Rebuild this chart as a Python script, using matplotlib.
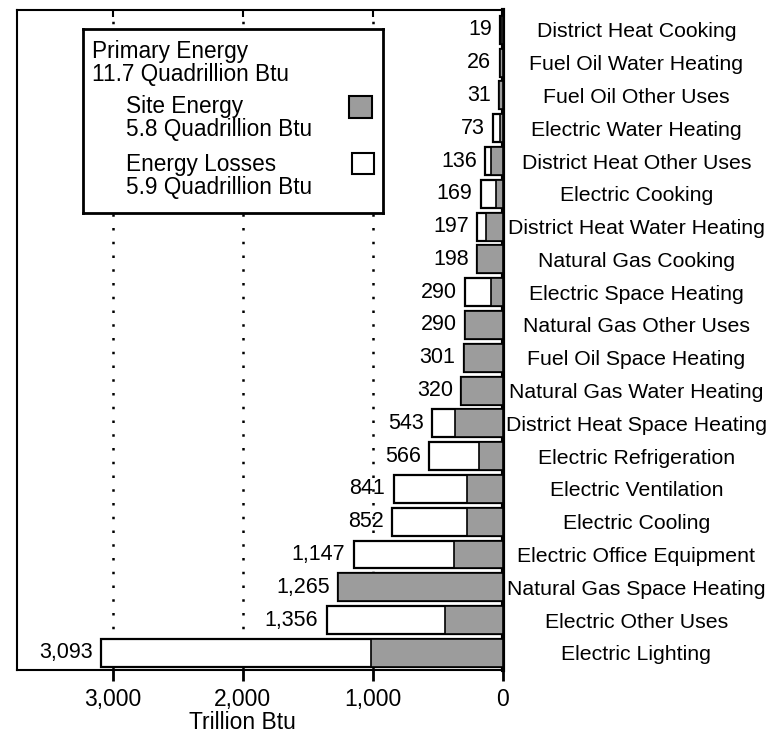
import numpy as np
import matplotlib.pyplot as plt
from matplotlib.patches import Rectangle

plt.rcParams['font.family'] = ['Liberation Sans', 'DejaVu Sans']

# end uses, top to bottom
categories = ["District Heat Cooking", "Fuel Oil Water Heating", "Fuel Oil Other Uses",
              "Electric Water Heating", "District Heat Other Uses", "Electric Cooking",
              "District Heat Water Heating", "Natural Gas Cooking", "Electric Space Heating",
              "Natural Gas Other Uses", "Fuel Oil Space Heating", "Natural Gas Water Heating",
              "District Heat Space Heating", "Electric Refrigeration", "Electric Ventilation",
              "Electric Cooling", "Electric Office Equipment", "Natural Gas Space Heating",
              "Electric Other Uses", "Electric Lighting"]
primary = [19, 26, 31, 73, 136, 169, 197, 198, 290, 290, 301, 320, 543, 566, 841, 852,
           1147, 1265, 1356, 3093]
site = [13, 26, 31, 24, 91, 55, 132, 198, 95, 290, 301, 320, 365, 185, 275, 279,
        375, 1265, 443, 1012]
xticks = [3000, 2000, 1000, 0]
legend_lines = ["Primary Energy", "11.7 Quadrillion Btu",
                "Site Energy", "5.8 Quadrillion Btu",
                "Energy Losses", "5.9 Quadrillion Btu"]

gray = '#9c9c9c'
fig = plt.figure(figsize=(7.69, 7.36), dpi=100)
ax = fig.add_axes([0.022, 0.0897, 0.632, 0.8965])

n = len(categories)
y = np.arange(n)[::-1]
primary = np.array(primary)
site = np.array(site)

ax.grid(axis='x', linestyle=(0, (1, 4.5)), color='black', linewidth=1.8, zorder=0)
ax.set_axisbelow(True)
# losses (white) out to the primary total, site energy (gray) nearest the axis
ax.barh(y, primary, height=0.85, color='white', edgecolor='black', linewidth=1.6, zorder=2)
ax.barh(y, site, height=0.85, color=gray, edgecolor='black', linewidth=1.2, zorder=3)

for yi, v in zip(y, primary):
    ax.annotate(f"{v:,}", xy=(v, yi), xytext=(-6, 0), textcoords='offset points',
                ha='right', va='center', fontsize=15.5, zorder=4)

ax.set_yticks(y)
ax.set_yticklabels(categories, fontsize=15.3)
ax.yaxis.tick_right()
for lbl in ax.get_yticklabels():
    lbl.set_horizontalalignment('center')
ax.tick_params(axis='y', length=0, pad=96)

ax.set_xlim(3738, 0)
ax.set_ylim(-0.52, n - 0.4)
ax.set_xticks(xticks)
ax.set_xticklabels([f"{t:,}" for t in xticks], fontsize=16.5)
ax.tick_params(axis='x', length=8, width=2, pad=5)
ax.set_xlabel("Trillion Btu", fontsize=16.5)
ax.xaxis.set_label_coords((3738 - 2000) / 3738, -0.062)

for s in ['left', 'top', 'bottom']:
    ax.spines[s].set_linewidth(1.5)
ax.spines['right'].set_linewidth(3)

top = ax.secondary_xaxis('top')
top.set_xticks(xticks[:-1])
top.set_xticklabels([])
top.tick_params(direction='in', length=5, width=1.5)
top.spines['top'].set_visible(False)

# legend box
lg = fig.add_axes([0.108, 0.711, 0.390, 0.249])
lg.set_xlim(0, 1)
lg.set_ylim(0, 1)
lg.set_xticks([])
lg.set_yticks([])
for s in lg.spines.values():
    s.set_linewidth(2)
lg.set_facecolor('white')
lg.set_zorder(5)
pos = [(0.03, 0.88), (0.03, 0.754), (0.143, 0.579), (0.143, 0.454), (0.143, 0.262), (0.143, 0.137)]
for (tx, ty), t in zip(pos, legend_lines):
    lg.text(tx, ty, t, fontsize=16.3, va='center', ha='left')
lg.add_patch(Rectangle((0.887, 0.519), 0.076, 0.12, facecolor=gray, edgecolor='black', linewidth=1.5))
lg.add_patch(Rectangle((0.897, 0.213), 0.073, 0.115, facecolor='white', edgecolor='black', linewidth=1.5))

fig.savefig('out.png', dpi=100)
